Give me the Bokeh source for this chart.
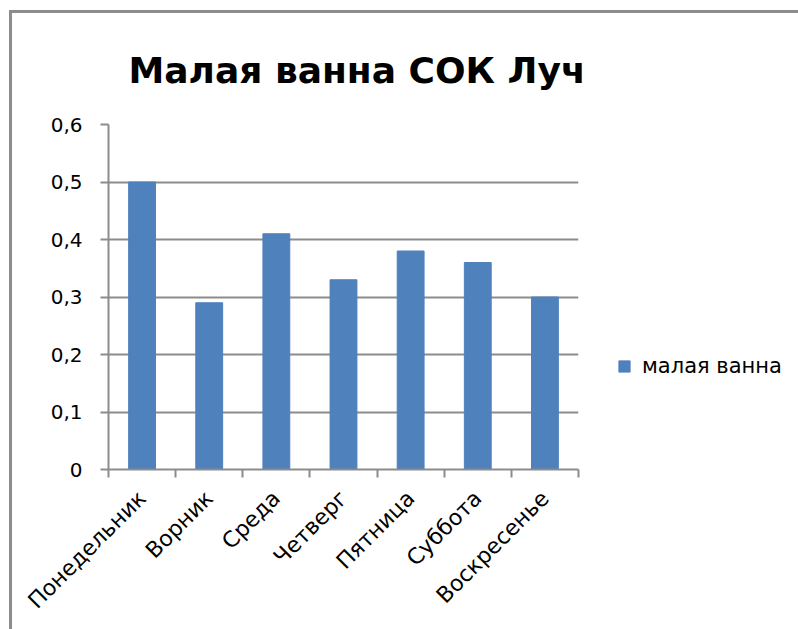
from bokeh.plotting import figure
from bokeh.models import (FactorRange, Range1d, LinearAxis, CategoricalAxis, FixedTicker,
                          CustomJSTickFormatter, Legend, LegendItem, Title)
from bokeh.embed import file_html
from bokeh.resources import INLINE
import math

days = ["Понедельник", "Ворник", "Среда", "Четверг", "Пятница", "Суббота", "Воскресенье"]
values = [0.50, 0.29, 0.41, 0.33, 0.38, 0.36, 0.30]
series_name = "малая ванна"
title_text = "Малая ванна СОК Луч"
y_ticks = [0, 0.1, 0.2, 0.3, 0.4, 0.5, 0.6]

BAR = "#4F81BD"
GRID = "#8c8c8c"
FONT = "DejaVu Sans"

OX, OY = 12, 13  # page offset of the canvas (outer frame lines)

p = figure(frame_width=470, frame_height=345, x_range=FactorRange(*days), y_range=Range1d(0, 0.6),
           output_backend="svg", toolbar_location=None, x_axis_location=None,
           y_axis_location="left",
           min_border_left=108 - OX, min_border_right=220 - OX, min_border_top=124 - OY,
           min_border_bottom=160)
p.outline_line_color = None
p.background_fill_color = "white"
p.border_fill_color = "white"
p.styles = {"border-top": "3px solid #8c8c8c", "border-left": "3px solid #8c8c8c",
            "margin-top": "10px", "margin-left": "9px"}

p.title = Title(text=title_text, text_font=FONT, text_font_size="36px", text_font_style="bold",
                text_color="black", align="left", offset=20, standoff=68)

r = p.vbar(x=days, top=values, width=0.4, color=BAR, line_color=BAR)

# y axis
ya = p.yaxis[0]
ya.ticker = FixedTicker(ticks=y_ticks, minor_ticks=[])
ya.formatter = CustomJSTickFormatter(code="""
if (Math.abs(tick) < 1e-9) { return '0'; }
return tick.toFixed(1).replace('.', ',');
""")
ya.axis_line_color = GRID
ya.axis_line_width = 2
ya.major_tick_line_color = GRID
ya.major_tick_line_width = 2
ya.major_tick_in = 0
ya.major_tick_out = 8
ya.minor_tick_line_color = None
ya.major_label_standoff = 18
ya.major_label_text_font = FONT
ya.major_label_text_font_size = "20px"
ya.major_label_text_color = "black"

p.ygrid.ticker = FixedTicker(ticks=y_ticks)
p.ygrid.grid_line_color = GRID
p.ygrid.grid_line_width = 2
p.xgrid.grid_line_color = None

# x axis: tick marks at category boundaries (synthetic coordinates 0..n)
ea = LinearAxis(ticker=FixedTicker(ticks=list(range(len(days) + 1)), minor_ticks=[]))
ea.axis_line_color = GRID
ea.axis_line_width = 2
ea.major_tick_line_color = GRID
ea.major_tick_line_width = 2
ea.major_tick_in = 0
ea.major_tick_out = 8
ea.minor_tick_line_color = None
ea.major_label_text_font_size = "0px"
ea.major_label_text_alpha = 0
ea.major_label_standoff = 0
p.add_layout(ea, "below")

ca = CategoricalAxis()
ca.axis_line_color = None
ca.major_tick_line_color = None
ca.minor_tick_line_color = None
ca.major_tick_out = 0
ca.major_tick_in = 0
ca.major_label_orientation = math.pi / 4
ca.major_label_standoff = 17
ca.major_label_text_font = FONT
ca.major_label_text_font_size = "22px"
ca.major_label_text_color = "black"
p.add_layout(ca, "below")

legend = Legend(items=[LegendItem(label=series_name, renderers=[r])], location=(39, 91),
                orientation="vertical", border_line_color=None, background_fill_alpha=0,
                padding=0, margin=0, glyph_width=14, glyph_height=14, label_standoff=11,
                label_text_font=FONT, label_text_font_size="21px", label_text_color="black")
p.add_layout(legend, "right")

open("out.html", "w").write(file_html(p, INLINE))
